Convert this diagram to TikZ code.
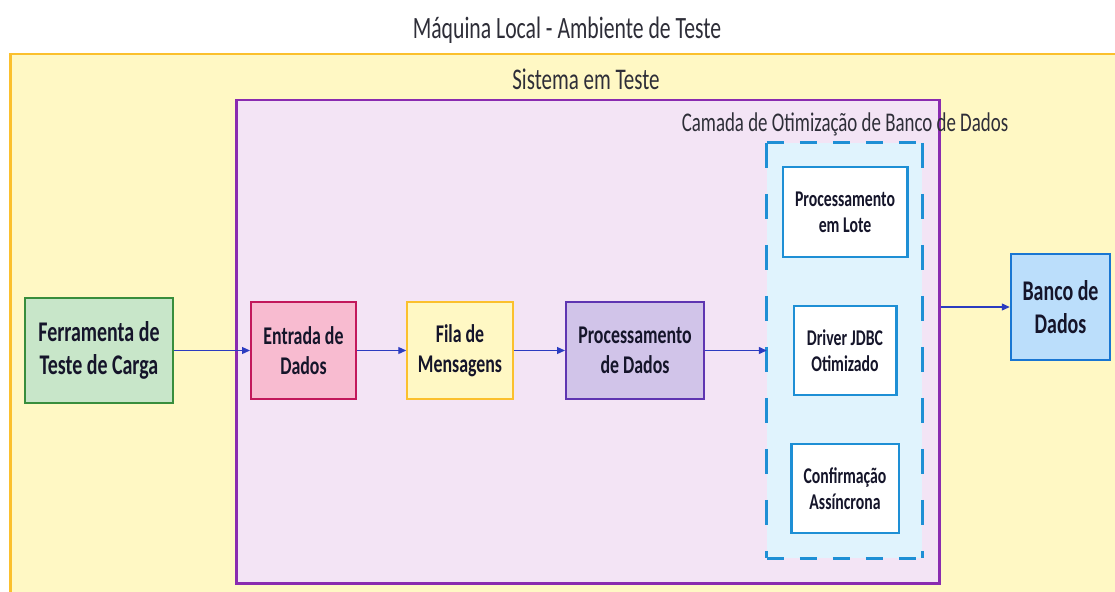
\documentclass[tikz,border=0pt]{standalone}
\usepackage{fontspec}
\setmainfont{Carlito}[FakeStretch=0.7]
\usetikzlibrary{arrows.meta}
\definecolor{ylwfill}{HTML}{FFF8C4}
\definecolor{ylwline}{HTML}{FBC02D}
\definecolor{sysfill}{HTML}{F3E4F5}
\definecolor{sysline}{HTML}{8A2BB0}
\definecolor{optfill}{HTML}{E0F3FD}
\definecolor{optline}{HTML}{1E8FD5}
\definecolor{grnfill}{HTML}{C8E6C9}
\definecolor{grnline}{HTML}{388E3C}
\definecolor{pnkfill}{HTML}{F8BBD0}
\definecolor{pnkline}{HTML}{C2185B}
\definecolor{prpfill}{HTML}{D1C4E9}
\definecolor{prpline}{HTML}{5E35B1}
\definecolor{bluefill}{HTML}{BBDEFB}
\definecolor{blueline}{HTML}{1976D2}
\definecolor{arrowc}{HTML}{2B3CC0}
\definecolor{txt}{HTML}{15152A}
\definecolor{lbl}{HTML}{2E2E38}
\begin{document}
\begin{tikzpicture}[x=1pt,y=-1pt,
  box/.style={draw, line width=2pt, align=center, inner sep=0pt, text=txt},
  bigtxt/.style={font=\fontsize{28.5}{33}\selectfont\bfseries},
  midtxt/.style={font=\fontsize{25.5}{30}\selectfont\bfseries},
  smalltxt/.style={font=\fontsize{22.5}{26}\selectfont\bfseries},
  inner/.style={box, fill=white, draw=optline, line width=2.5pt, smalltxt},
  grouplbl/.style={text=lbl, inner sep=0pt},
  flow/.style={draw=arrowc, line width=1.2pt, -{Triangle[length=8pt,width=7pt]}}
]
\useasboundingbox (0,0) rectangle (1115,591);
\clip (0,0) rectangle (1115,591);
\fill[white] (0,0) rectangle (1115,591);
% outer container
\node[draw=ylwline, fill=ylwfill, line width=2.5pt, minimum width=1130pt, minimum height=560pt, anchor=north west, inner sep=0pt] (local) at (9,53) {};
\node[grouplbl, font=\fontsize{31}{36}\selectfont] (localLbl) at (567,30) {Máquina Local - Ambiente de Teste};
% system under test
\node[draw=sysline, fill=sysfill, line width=2.5pt, minimum width=703pt, minimum height=483pt, anchor=north west, inner sep=0pt] (sys) at (235,99) {};
\node[grouplbl, font=\fontsize{30}{35}\selectfont] (sysLbl) at (586,79) {Sistema em Teste};
% optimisation layer
\node[fill=optfill, minimum width=155pt, minimum height=415pt, inner sep=0pt] (opt) at (844.5,350.5) {};
\draw[optline, line width=3pt, dash pattern=on 17pt off 16pt] (opt.north west) -- (opt.north east);
\draw[optline, line width=3pt, dash pattern=on 17pt off 16pt] (opt.south west) -- (opt.south east);
\draw[optline, line width=3pt, dash pattern=on 25pt off 26pt] (opt.north west) -- (opt.south west);
\draw[optline, line width=3pt, dash pattern=on 25pt off 26pt] (opt.north east) -- (opt.south east);
\node[grouplbl, font=\fontsize{27}{32}\selectfont] (optLbl) at (845,124) {Camada de Otimização de Banco de Dados};
% nodes
\node[box, bigtxt, fill=grnfill, draw=grnline, minimum width=148pt, minimum height=105pt] (ferr) at (99,350.5) {Ferramenta de\\Teste de Carga};
\node[box, midtxt, fill=pnkfill, draw=pnkline, minimum width=105pt, minimum height=97pt] (entr) at (303.5,350.5) {Entrada de\\Dados};
\node[box, midtxt, fill=ylwfill, draw=ylwline, minimum width=105.5pt, minimum height=97pt] (fila) at (460,350.5) {Fila de\\Mensagens};
\node[box, midtxt, fill=prpfill, draw=prpline, minimum width=138pt, minimum height=97pt] (proc) at (635,350.5) {Processamento\\de Dados};
\node[inner, minimum width=124.5pt, minimum height=90pt] (lote) at (845,212) {Processamento\\em Lote};
\node[inner, minimum width=102.5pt, minimum height=89pt] (jdbc) at (845,350.5) {Driver JDBC\\Otimizado};
\node[inner, minimum width=107.5pt, minimum height=89pt] (conf) at (845,488.5) {Confirmação\\Assíncrona};
\node[box, bigtxt, fill=bluefill, draw=blueline, line width=2.5pt, minimum width=99pt, minimum height=106pt] (banco) at (1060.5,307) {Banco de\\Dados};
% connectors
\draw[flow] (ferr.east) -- (entr.west);
\draw[flow] (entr.east) -- (fila.west);
\draw[flow] (fila.east) -- (proc.west);
\draw[flow] (proc.east) -- (opt.west);
\coordinate (optOut) at (banco.west -| sys.east);
\draw[flow] (optOut) -- (banco.west);
\end{tikzpicture}
\end{document}
